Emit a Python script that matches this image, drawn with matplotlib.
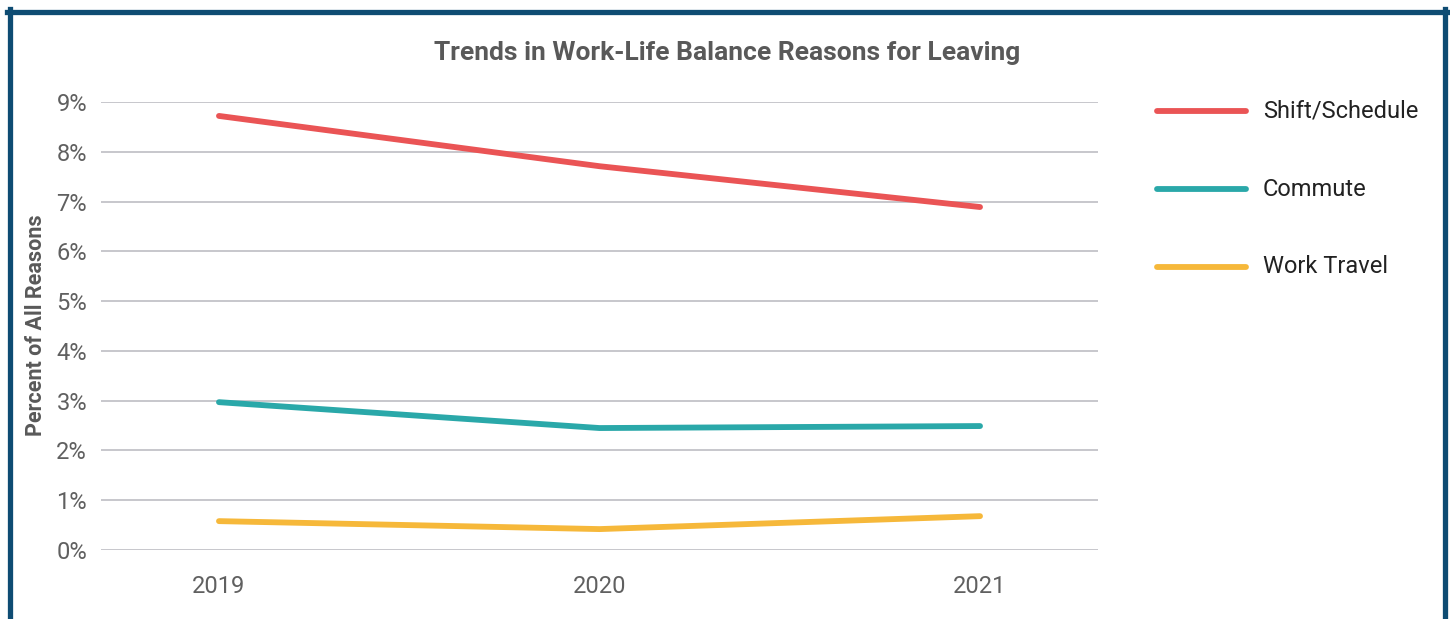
import matplotlib.pyplot as plt
from matplotlib.lines import Line2D

years = ['2019', '2020', '2021']
shift_schedule = [8.72, 7.71, 6.89]
commute = [2.97, 2.45, 2.49]
work_travel = [0.58, 0.42, 0.68]
series_names = ['Shift/Schedule', 'Commute', 'Work Travel']
colors = ['#EA5455', '#2AA8A9', '#F6B83A']

plt.rcParams['font.family'] = ['Roboto', 'DejaVu Sans']

fig = plt.figure(figsize=(14.5, 6.19), dpi=100)
ax = fig.add_axes([101 / 1450, 1 - 550 / 619, 997 / 1450, 448 / 619])

x = range(len(years))
for vals, c, name in zip([shift_schedule, commute, work_travel], colors, series_names):
    ax.plot(x, vals, color=c, lw=4.2, solid_capstyle='round', label=name, zorder=3)

ax.set_xlim(-0.31, 2.31)
ax.set_ylim(0, 9)
ax.set_yticks(range(0, 10))
ax.set_yticklabels([f'{i}%' for i in range(0, 10)])
ax.set_xticks(list(x))
ax.set_xticklabels(years)
ax.grid(axis='y', color='#BDBDC3', lw=1.2)
ax.set_axisbelow(True)
for s in ax.spines.values():
    s.set_visible(False)
ax.tick_params(axis='both', length=0, labelsize=17, colors='#606060')
ax.tick_params(axis='y', pad=10)
ax.tick_params(axis='x', pad=18)

fig.text(36 / 1450, 1 - 325 / 619, 'Percent of All Reasons', rotation=90,
         ha='center', va='center', fontsize=15.5, fontweight='bold', color='#595959')
fig.text(727 / 1450, 1 - 53 / 619, 'Trends in Work-Life Balance Reasons for Leaving',
         ha='center', va='center', fontsize=19, fontweight='bold', color='#595959')

# legend drawn by hand at the right
leg_y = [111, 189, 267]
for name, c, yy in zip(series_names, colors, leg_y):
    fy = 1 - yy / 619
    fig.add_artist(Line2D([1157 / 1450, 1246 / 1450], [fy, fy], color=c, lw=4.2,
                          solid_capstyle='round', transform=fig.transFigure))
    fig.text(1263 / 1450, fy, name, ha='left', va='center', fontsize=17, color='#222222')

# dark blue frame (bottom edge is cut off)
frame_c = '#0E4C73'
fig.add_artist(Line2D([9.5 / 1450, 9.5 / 1450], [0, 1 - 9 / 619], color=frame_c, lw=3.8,
                      transform=fig.transFigure))
fig.add_artist(Line2D([1444.5 / 1450, 1444.5 / 1450], [0, 1 - 9 / 619], color=frame_c, lw=3.8,
                      transform=fig.transFigure))
fig.add_artist(Line2D([7 / 1450, 1447 / 1450], [1 - 11.5 / 619, 1 - 11.5 / 619], color=frame_c,
                      lw=3.8, transform=fig.transFigure))

fig.savefig('out.png', dpi=100)
